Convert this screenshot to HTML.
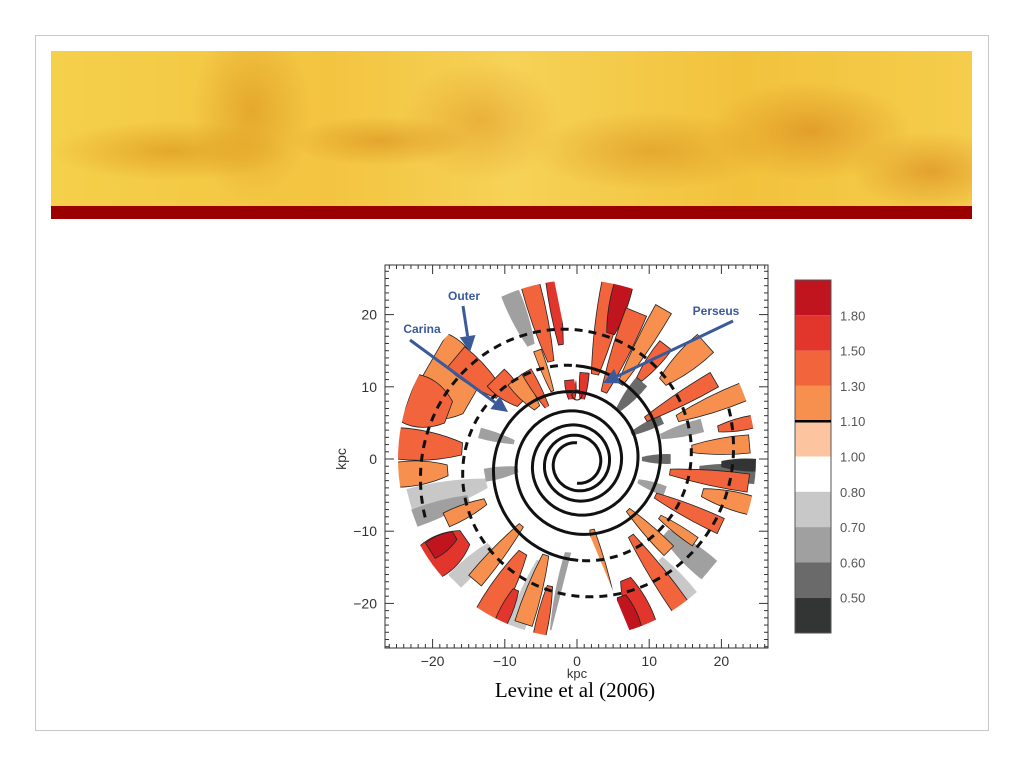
<!DOCTYPE html>
<html><head><meta charset="utf-8"><style>
body{margin:0;background:#fff;width:1024px;height:768px;overflow:hidden;position:relative;font-family:"Liberation Sans",sans-serif}
#frame{position:absolute;left:35px;top:35px;width:954px;height:696px;border:1px solid #c8c8c8;box-sizing:border-box}
#banner{position:absolute;left:51px;top:51px;width:921px;height:155px;background:
radial-gradient(ellipse 120px 30px at 120px 100px,rgba(214,140,20,.55),transparent),
radial-gradient(ellipse 60px 90px at 200px 60px,rgba(210,130,20,.45),transparent),
radial-gradient(ellipse 90px 25px at 330px 90px,rgba(210,130,20,.5),transparent),
radial-gradient(ellipse 80px 60px at 430px 70px,rgba(220,140,30,.45),transparent),
radial-gradient(ellipse 120px 40px at 600px 100px,rgba(210,130,20,.45),transparent),
radial-gradient(ellipse 100px 50px at 760px 80px,rgba(210,120,20,.5),transparent),
radial-gradient(ellipse 80px 40px at 880px 120px,rgba(210,120,20,.5),transparent),
linear-gradient(90deg,#f5d04a,#f3c440 30%,#f6d256 50%,#f2c23c 75%,#f5cd4c)}
#redbar{position:absolute;left:51px;top:206px;width:921px;height:13px;background:#9a0000}
#caption{position:absolute;left:400px;width:350px;top:678px;text-align:center;font-family:"Liberation Serif",serif;font-size:21px;color:#000}
</style></head><body>
<div id="frame"></div>
<div id="banner"></div>
<div id="redbar"></div>
<svg id="chart" width="1024" height="768" style="position:absolute;left:0;top:0"></svg>
<div id="caption">Levine et al (2006)</div>
<script>
const xTicks=[-20,-10,0,10,20];
const yTicks=[20,10,0,-10,-20];
const cbLabels=["1.80","1.50","1.30","1.10","1.00","0.80","0.70","0.60","0.50"];
const cbColors=["#c0141e","#e2352c","#f2643c","#f7904e","#fdc4a0","#ffffff","#c8c8c8","#a0a0a0","#6a6a6a","#333535"];
// decorative streaks: [angleDeg, r1, r2, halfWidthDeg, colorIndex]
const streaks=[
[150,17,25,14,3],[160,19,25,8,2],[140,14,22,5,2],[135,11,16,6,2],[128,9,14,5,3],
[175,16,25,5,2],[185,18,25,4,3],[215,19,25,6,1],[212,20,24,3,0],[205,14,20,3,3],[230,12,22,3,3],[240,15,25,4,2],
[252,14,24,3,3],[258,18,25,2,2],[245,20,25,2,1],
[105,14,25,3,2],[98,16,25,2,1],[110,10,16,2,3],[120,8,14,3,2],
[78,12,25,4,2],[75,18,25,3,0],[68,10,22,4,2],[60,12,24,3,3],[52,14,20,3,2],[42,16,24,4,3],[30,11,22,3,2],[22,15,25,3,3],[12,20,25,2,2],[5,16,24,3,3],
[-8,13,24,3,2],[-15,18,25,3,3],[-25,12,22,3,2],[-35,14,20,2,3],[-45,10,18,3,3],[-55,13,25,3,2],[-68,18,25,4,1],[-72,20,25,3,0],[-78,10,20,3,3],[-85,14,22,2,2],
[85,8,12,3,1],[95,8,11,4,1]];
const grays=[[195,13,24,5,6],[190,8,13,4,7],[200,16,24,3,7],[225,17,24,3,6],[-5,17,25,3,8],[-2,20,25,2,9],[-40,16,24,4,7],[-50,18,25,2,6],[15,12,18,3,7],[25,8,13,3,8],[165,9,14,3,7],[-95,13,24,4,7],[-110,15,25,3,6],[112,17,25,3,7],[50,9,14,4,8],[0,9,13,3,8],[-20,9,13,3,7]];
const NS="http://www.w3.org/2000/svg";
const svg=document.getElementById('chart');
function mk(t,a,p){const e=document.createElementNS(NS,t);for(const k in a)e.setAttribute(k,a[k]);(p||svg).appendChild(e);return e;}
const L=385,R=768,T=265,B=648,cx=577,cy=459,s=7.22;
const X=v=>cx+v*s, Y=v=>cy-v*s;
function sector(a,r1,r2,w){const P=(r,d)=>{const t=d*Math.PI/180;return (cx+r*s*Math.cos(t)).toFixed(1)+' '+(cy-r*s*Math.sin(t)).toFixed(1);};
 const rm=(r1+r2)/2;return `M${P(r1,a-w*0.6)} Q${P(rm,a-w*1.3)} ${P(r2,a-w)} L${P(r2,a+w)} Q${P(rm,a+w*1.3)} ${P(r1,a+w*0.6)} Z`;}
const g=mk('g',{});
mk('circle',{cx:cx,cy:cy,r:179,fill:'#fff'},g);
grays.forEach(d=>{const e=mk('path',{d:sector(d[0],d[1],d[2],d[3]),fill:cbColors[d[4]]},g);});
streaks.forEach(d=>{const e=mk('path',{d:sector(d[0],d[1],d[2],d[3]),fill:cbColors[d[4]],stroke:'#222','stroke-width':0.8},g);});
mk('path',{d:`M${cx-2} ${cy-75} L${X(-3.3)} ${T+10} L${X(3.3)} ${T+10} Z`,fill:'#fff'},g);
mk('path',{d:`M${cx+4} ${cy+55} L${X(-4)} ${B-5} L${X(8)} ${B-5} Z`,fill:'#fff'},g);
mk('circle',{cx:cx,cy:cy,r:60,fill:'#fff'},g);
mk('path',{d:`M${L} ${T}H${R}V${B}H${L}Z M${cx-179} ${cy} a179 179 0 1 0 358 0 a179 179 0 1 0 -358 0Z`,fill:'#fff','fill-rule':'evenodd'});
for(let arm=0;arm<2;arm++){let sol='',das='';const k=0.1;
 for(let th=0;th<=22;th+=0.04){const r=2.8*Math.exp(k*th);const a=-th+arm*Math.PI+Math.PI*0.5;const px=cx+r*s*Math.cos(a),py=cy+r*s*Math.sin(a)+4;
  if(r<13.5)sol+=(sol?'L':'M')+px.toFixed(1)+' '+py.toFixed(1);else if(r<22.5)das+=(das?'L':'M')+px.toFixed(1)+' '+py.toFixed(1);}
 const p1=mk('path',{d:sol,fill:'none',stroke:'#111','stroke-width':3});
 const p2=mk('path',{d:das,fill:'none',stroke:'#111','stroke-width':3,'stroke-dasharray':'8 6'});}
mk('circle',{cx:cx,cy:cy-64,r:5,fill:'none',stroke:'#222','stroke-width':1});
const fr=mk('rect',{x:L,y:T,width:R-L,height:B-T,fill:'none',stroke:'#333','stroke-width':1});

for(let v=-26;v<=26;v++){const big=v%10==0,len=big?9:4;
 mk('line',{x1:X(v),x2:X(v),y1:T,y2:T+len,stroke:'#333'});mk('line',{x1:X(v),x2:X(v),y1:B,y2:B-len,stroke:'#333'});
 mk('line',{y1:Y(v),y2:Y(v),x1:L,x2:L+len,stroke:'#333'});mk('line',{y1:Y(v),y2:Y(v),x1:R,x2:R-len,stroke:'#333'});}
xTicks.forEach(v=>{const t=mk('text',{x:X(v),y:B+18,'text-anchor':'middle','font-size':14,fill:'#333'});t.textContent=(v<0?'\u2212'+(-v):v);});
yTicks.forEach(v=>{const t=mk('text',{x:L-8,y:Y(v)+5,'text-anchor':'end','font-size':14,fill:'#333'});t.textContent=(v<0?'\u2212'+(-v):v);});
let t=mk('text',{x:577,y:678,'text-anchor':'middle','font-size':13,fill:'#333'});t.textContent='kpc';
t=mk('text',{x:346,y:459,'text-anchor':'middle','font-size':14,fill:'#333',transform:'rotate(-90 346 459)'});t.textContent='kpc';
const arrows=[["Outer",464,300,[[463,306],[470,352]]],["Carina",422,333,[[410,340],[508,412]]],["Perseus",716,315,[[733,321],[603,383]]]];
arrows.forEach(a=>{const tx=mk('text',{x:a[1],y:a[2],'text-anchor':'middle','font-size':12,'font-weight':'bold',fill:'#3b5a9a'});tx.textContent=a[0];
 const [p,q]=a[3];const ang=Math.atan2(q[1]-p[1],q[0]-p[0]);const bx=q[0]-16*Math.cos(ang),by=q[1]-16*Math.sin(ang);
 mk('line',{x1:p[0],y1:p[1],x2:bx,y2:by,stroke:'#3b5a9a','stroke-width':3});
 const nx=-Math.sin(ang)*8,ny=Math.cos(ang)*8;
 const h=mk('path',{d:`M${q[0]} ${q[1]}L${bx+nx} ${by+ny}L${bx-nx} ${by-ny}Z`,fill:'#3b5a9a'});});
const cbT=280,cbB=633,cbX=795,cbW=36,bh=(cbB-cbT)/cbColors.length;
cbColors.forEach((c,i)=>{const r=mk('rect',{x:cbX,y:cbT+i*bh,width:cbW,height:bh,fill:c});});
mk('rect',{x:cbX,y:cbT,width:cbW,height:cbB-cbT,fill:'none',stroke:'#555'});
mk('line',{x1:cbX,x2:cbX+cbW,y1:cbT+4*bh,y2:cbT+4*bh,stroke:'#000','stroke-width':2.5});
cbLabels.forEach((l,i)=>{const tt=mk('text',{x:cbX+45,y:cbT+(i+1)*bh+5,'font-size':13,fill:'#555'});tt.textContent=l;});
</script>
</body></html>
